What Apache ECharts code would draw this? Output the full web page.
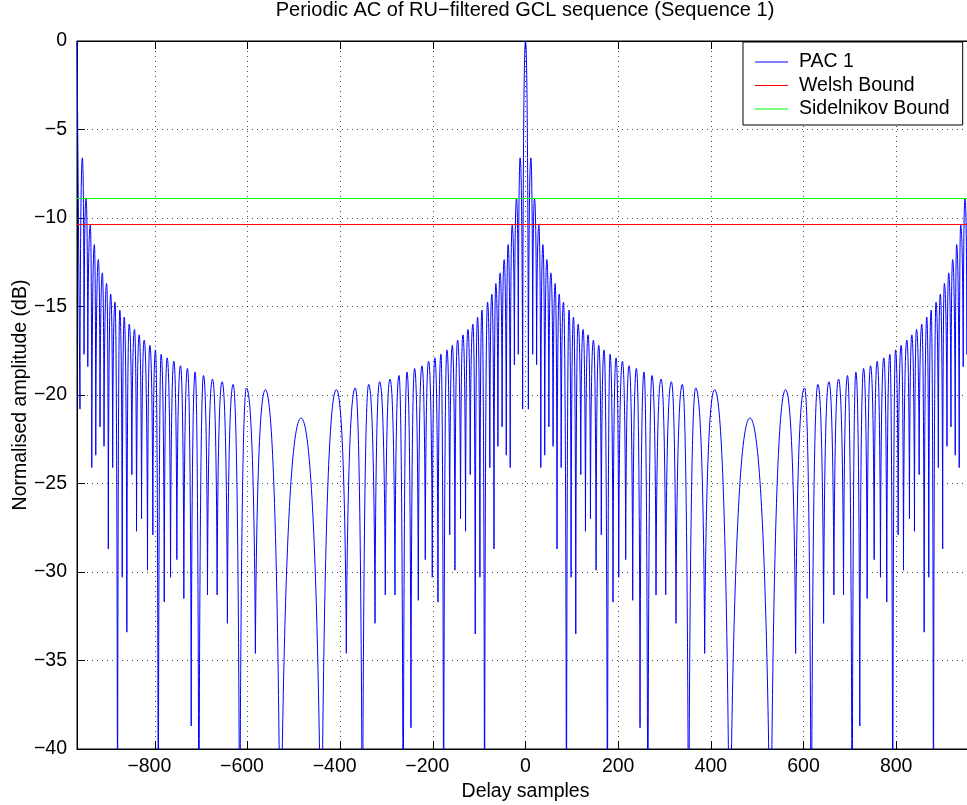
<!DOCTYPE html>
<html>
<head>
<meta charset="utf-8">
<title>Periodic AC of RU-filtered GCL sequence</title>
<script src="https://cdn.jsdelivr.net/npm/echarts@6.0.0/dist/echarts.min.js"></script>
<style>
  html, body { margin: 0; padding: 0; background: #fff; }
  #chart { width: 967px; height: 805px; }
</style>
</head>
<body>
<div id="chart"></div>
<script>
  // lobe tops [delay, dB], left half (-968 .. 0)
  var leftPeaks = [
    [-968, 0], [-956.4, -6.6], [-948.6, -8.9], [-939.2, -10.4], [-930.5, -11.5], [-921.9, -12.35],
    [-913.3, -13.1], [-904, -13.7], [-895.3, -14.3], [-886, -14.75],
    [-875.6, -15.2], [-866.1, -15.6], [-855.4, -16.0], [-843.9, -16.3], [-833.8, -16.6], [-823, -16.9],
    [-810.8, -17.2], [-798.6, -17.45],
    [-786.4, -17.7], [-773.4, -17.9], [-759, -18.1], [-744.7, -18.35], [-729.6, -18.5], [-713, -18.7],
    [-695, -18.9], [-675.6, -19.1], [-654.8, -19.25], [-631, -19.4],
    [-602.3, -19.6], [-561.4, -19.7],
    [-484.4, -21.3],
    [-408.2, -19.7], [-367.3, -19.6],
    [-338.5, -19.4], [-314.8, -19.25], [-292.5, -19.1], [-273, -18.9],
    [-255.8, -18.7], [-239.4, -18.5], [-223.5, -18.35], [-209.2, -18.1], [-195.5, -17.9], [-182.5, -17.7],
    [-169.6, -17.45], [-158, -17.2], [-146.6, -16.9], [-135, -16.6], [-124.3, -16.3], [-113.5, -16.0],
    [-103.5, -15.6], [-94, -15.2],
    [-82, -14.75], [-72.7, -14.3], [-64, -13.7], [-54.7, -13.1], [-46.1, -12.35], [-37.5, -11.5],
    [-28.8, -10.4], [-19.4, -8.9], [-11.6, -6.6], [0, 0]
  ];
  // nulls between those tops (deep ones run off the bottom of the axes)
  var leftNulls = [
    [-961.6, -20.8], [-952.8, -17.7], [-944.7, -18.4], [-936.1, -24.1], [-927.5, -23.4], [-918.3, -21.8],
    [-909.7, -22.9], [-900.4, -28.7], [-891, -24.1], [-880.5, -50],
    [-870.4, -30.3], [-860.4, -33.4], [-849.6, -24.5], [-839.5, -27.7], [-828.7, -27.0], [-815.8, -29.9],
    [-804.3, -27.9], [-792.6, -50],
    [-779.7, -31.7], [-766.1, -30.3], [-752.5, -29.3], [-737.4, -31.5], [-721.5, -38.7], [-705, -50],
    [-686.4, -31.3], [-665.6, -31.3], [-643.4, -32.9], [-616.8, -50],
    [-583, -34.6], [-529, -50],
    [-440.6, -50],
    [-386.7, -34.6], [-352, -50],
    [-324.8, -32.9], [-302.6, -31.3], [-281.7, -31.3], [-264, -50],
    [-247.2, -38.8], [-231.4, -31.6], [-216.3, -29.3], [-201.2, -30.3], [-188.9, -31.7], [-176.8, -50],
    [-163.6, -27.9], [-152.3, -29.9], [-140.2, -27.0], [-129.4, -27.7], [-119.3, -24.5], [-108.5, -33.5],
    [-98.4, -30.3], [-88.4, -50],
    [-77, -24.1], [-68, -28.7], [-59.5, -22.9], [-50.5, -21.8], [-41.5, -23.4], [-33, -24.1],
    [-24, -18.3], [-15.5, -17.7], [-6.2, -20.8]
  ];
  // right half (0 .. 968)
  var rightPeaks = [
    [11.6, -6.6], [19.4, -8.9], [28.8, -10.4], [37.5, -11.5], [46.1, -12.35], [54.7, -13.1],
    [64, -13.7], [72.7, -14.3], [82, -14.75],
    [94, -15.2], [103.5, -15.6], [113.5, -16.0], [124.3, -16.3], [135, -16.6], [146.6, -16.9],
    [158, -17.2], [169.6, -17.45],
    [182.5, -17.7], [195.5, -17.9], [209.2, -18.1], [223.5, -18.35], [239.4, -18.5], [255.8, -18.7],
    [273, -18.9], [292.5, -19.1], [314.8, -19.25], [338.5, -19.4],
    [367.3, -19.6], [408.2, -19.7],
    [484.4, -21.3],
    [561.4, -19.7], [602.3, -19.6],
    [631, -19.4], [654.8, -19.25], [675.6, -19.1], [695, -18.9],
    [713, -18.7], [729.6, -18.5], [744.7, -18.35], [759, -18.1], [773.4, -17.9], [786.4, -17.7],
    [798.6, -17.45], [810.8, -17.2], [823, -16.9], [833.8, -16.6], [843.9, -16.3], [855.4, -16.0],
    [866.1, -15.6], [875.6, -15.2],
    [886, -14.75], [895.3, -14.3], [904, -13.7], [913.3, -13.1], [921.9, -12.35], [930.5, -11.5],
    [939.2, -10.4], [948.6, -8.9], [956.4, -6.6], [968, 0]
  ];
  var rightNulls = [
    [6.2, -20.8], [15.5, -17.7], [24, -18.3], [33, -24.1], [41.5, -23.4], [50.5, -21.8],
    [59.5, -22.9], [68, -28.7], [77, -24.1], [88.4, -50],
    [98.4, -30.3], [108.5, -33.5], [119.3, -24.5], [129.4, -27.7], [140.2, -27.0], [152.3, -29.9],
    [163.6, -27.9], [176.8, -50],
    [188.9, -31.7], [201.2, -30.3], [216.3, -29.3], [231.4, -31.6], [247.2, -38.8], [264, -50],
    [281.7, -31.3], [302.6, -31.3], [324.8, -32.9], [352, -50],
    [386.7, -34.6], [440.6, -50],
    [529, -50],
    [583, -34.6], [616.8, -50],
    [643.4, -32.9], [665.6, -31.3], [686.4, -31.3], [705, -50],
    [721.5, -38.7], [737.4, -31.5], [752.5, -29.3], [766.1, -30.3], [779.7, -31.7], [792.6, -50],
    [804.3, -27.9], [815.8, -29.9], [828.7, -27.0], [839.5, -27.7], [849.6, -24.5], [860.4, -33.4],
    [870.4, -30.3], [880.5, -50],
    [891, -24.1], [900.4, -28.7], [909.7, -22.9], [918.3, -21.8], [927.5, -23.4], [936.1, -24.1],
    [944.7, -18.4], [952.8, -17.7], [961.6, -20.8]
  ];

  var welshBound = -10.37;
  var sidelnikovBound = -8.9;
  var delayRange = [-968, 968];
  var xTicks = [-800, -600, -400, -200, 0, 200, 400, 600, 800];

  // each lobe is its own smoothed piece: null -> top -> null, then a gap
  var peaks = leftPeaks.concat(rightPeaks);
  var nulls = leftNulls.concat(rightNulls);
  var pacData = [];
  for (var i = 0; i < peaks.length; i++) {
    if (i > 0) pacData.push(nulls[i - 1]);
    pacData.push(peaks[i]);
    if (i < nulls.length) pacData.push(nulls[i]);
    pacData.push([peaks[i][0], '-']);
  }

  var font = 'Liberation Sans, Arial, Helvetica, sans-serif';
  var minus = function (v) { return v < 0 ? '\u2212' + Math.abs(v) : String(v); };
  // matlab puts negative x labels a little left of the tick
  var xLabel = function (v) { return v < 0 ? '{neg|\u2212' + Math.abs(v) + '}' : String(v); };
  var dotted = { color: '#000', width: 1, type: [1, 4], opacity: 0.7 };

  var chart = echarts.init(document.getElementById('chart'));
  chart.setOption({
    animation: false,
    backgroundColor: '#fff',
    textStyle: { fontFamily: font },
    title: {
      text: 'Periodic AC of RU\u2212filtered GCL sequence (Sequence 1)',
      left: 525,
      textAlign: 'center',
      top: 0,
      padding: 0,
      textStyle: { fontFamily: font, fontSize: 20, fontWeight: 'normal', color: '#000' }
    },
    grid: {
      left: 77, top: 41, right: -7, bottom: 56,
      outerBoundsMode: 'none',
      containLabel: false,
      show: true, borderColor: '#000', borderWidth: 1
    },
    legend: {
      orient: 'vertical',
      left: 743, top: 42,
      padding: [10, 13, 6, 12],
      itemGap: 3.5,
      itemWidth: 33, itemHeight: 1,
      icon: 'rect',
      backgroundColor: '#fff',
      borderColor: '#000', borderWidth: 1,
      textStyle: { fontFamily: font, fontSize: 19.5, color: '#000', lineHeight: 20, padding: [0, 0, 0, 6] },
      data: ['PAC 1', 'Welsh Bound', 'Sidelnikov Bound']
    },
    xAxis: [{
      type: 'value',
      min: delayRange[0], max: delayRange[1],
      splitNumber: 10,
      name: 'Delay samples',
      nameLocation: 'middle',
      nameGap: 33,
      nameMoveOverlap: false,
      nameTextStyle: { fontFamily: font, fontSize: 19.5, color: '#000' },
      axisLine: { show: true, onZero: false, lineStyle: { color: '#000' } },
      axisTick: { show: true, inside: true, length: 8, customValues: xTicks, lineStyle: { color: '#000' } },
      axisLabel: {
        customValues: xTicks, margin: 8,
        fontFamily: font, fontSize: 19.5, color: '#000', formatter: xLabel,
        rich: { neg: { fontFamily: font, fontSize: 19.5, color: '#000', padding: [0, 11, 0, 0] } }
      },
      splitLine: { show: true, lineStyle: dotted }
    }, {
      type: 'value',
      position: 'top',
      min: delayRange[0], max: delayRange[1],
      splitNumber: 10,
      axisLine: { show: true, onZero: false, lineStyle: { color: '#000' } },
      axisTick: { show: true, inside: true, length: 8, customValues: xTicks, lineStyle: { color: '#000' } },
      axisLabel: { show: false },
      splitLine: { show: false }
    }],
    yAxis: {
      type: 'value',
      min: -40, max: 0, interval: 5,
      name: 'Normalised amplitude (dB)',
      nameLocation: 'middle',
      nameGap: 46,
      nameMoveOverlap: false,
      nameTextStyle: { fontFamily: font, fontSize: 19.5, color: '#000' },
      axisLine: { show: true, onZero: false, lineStyle: { color: '#000' } },
      axisTick: { show: true, inside: true, length: 8, lineStyle: { color: '#000' } },
      axisLabel: { margin: 10, fontFamily: font, fontSize: 19.5, color: '#000', formatter: minus },
      splitLine: { show: true, lineStyle: dotted }
    },
    series: [{
      name: 'PAC 1',
      type: 'line',
      data: pacData,
      smooth: 0.9,
      smoothMonotone: 'x',
      showSymbol: false,
      connectNulls: false,
      lineStyle: { color: '#0000ff', width: 1 },
      itemStyle: { color: '#0000ff' }
    }, {
      name: 'Welsh Bound',
      type: 'line',
      data: [[delayRange[0], welshBound], [delayRange[1], welshBound]],
      showSymbol: false,
      lineStyle: { color: '#ff0000', width: 1 },
      itemStyle: { color: '#ff0000' }
    }, {
      name: 'Sidelnikov Bound',
      type: 'line',
      data: [[delayRange[0], sidelnikovBound], [delayRange[1], sidelnikovBound]],
      showSymbol: false,
      lineStyle: { color: '#00ff00', width: 1 },
      itemStyle: { color: '#00ff00' }
    }]
  });
</script>
</body>
</html>
